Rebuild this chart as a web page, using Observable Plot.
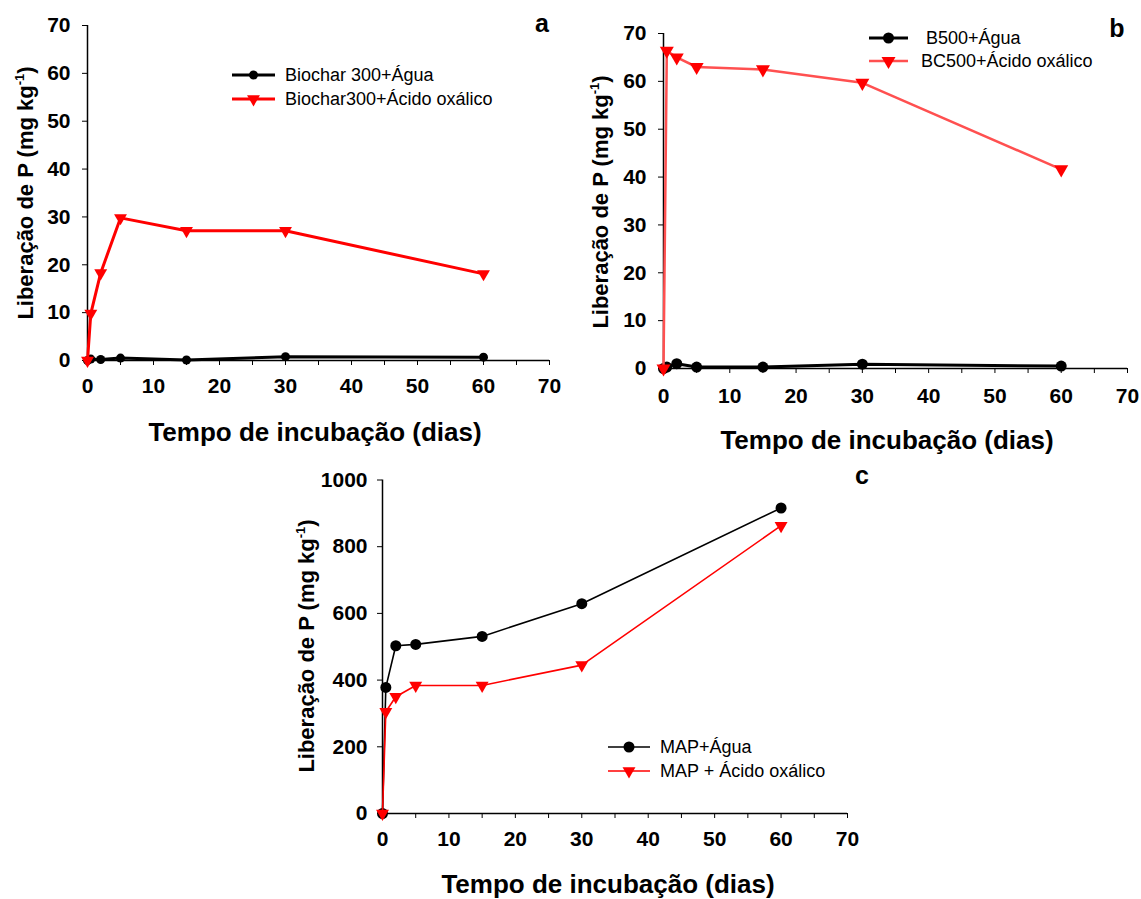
<!DOCTYPE html>
<html><head><meta charset="utf-8">
<script src="https://cdn.jsdelivr.net/npm/d3@7"></script>
<script src="https://cdn.jsdelivr.net/npm/@observablehq/plot@0.6"></script>
<style>
body{margin:0;background:#fff;}
#wrap{position:relative;width:1141px;height:899px;overflow:hidden;font-family:"Liberation Sans",Arial,sans-serif;color:#000;}
.ytitle{position:absolute;white-space:nowrap;font-weight:bold;font-size:22px;transform:translate(-50%,-50%) rotate(-90deg);}
.ytitle sup{font-size:13px;vertical-align:9px;line-height:0;}
.xtitle{position:absolute;white-space:nowrap;font-weight:bold;font-size:26px;transform:translate(-50%,-50%);}
.letter{position:absolute;font-weight:bold;font-size:25px;transform:translate(-50%,-50%);}
.leg{position:absolute;display:flex;align-items:center;height:24px;font-size:18px;white-space:pre;}
.leg svg{display:block;}
</style></head>
<body><div id="wrap"></div>
<script>
// ---- data ----
const dias = [0, 0.5, 2, 5, 15, 30, 60];
const aAgua = [0, 0.3, 0.2, 0.5, 0.1, 0.8, 0.7];
const aOxalico = [0, 9.8, 18.3, 29.8, 27.1, 27.1, 18.1];
const bAgua = [0, 0.3, 1.0, 0.3, 0.3, 0.9, 0.5];
const bOxalico = [0, 66.4, 65.0, 63.0, 62.5, 59.7, 41.6];
const cAgua = [0, 378, 503, 507, 531, 629, 916];
const cOxalico = [0, 305, 350, 384, 384, 445, 863];
const xTicks = [0, 5, 10, 15, 20, 25, 30, 35, 40, 45, 50, 55, 60, 65, 70];
const xLabels = [0, 10, 20, 30, 40, 50, 60, 70];
const abYTicks = [0, 10, 20, 30, 40, 50, 60, 70];
const cYTicks = [0, 200, 400, 600, 800, 1000];
const legA = ["Biochar 300+Água", "Biochar300+Ácido oxálico"];
const legB = [" B500+Água", "BC500+Ácido oxálico"];
const legC = ["MAP+Água", "MAP + Ácido oxálico"];
const xTitle = "Tempo de incubação (dias)";

const W = 1141, H = 899;
const wrap = document.getElementById("wrap");
const FONT = '"Liberation Sans", Arial, sans-serif';

const downTriangle = {
  draw(ctx, size) {
    const y = -Math.sqrt(size / (Math.sqrt(3) * 3));
    ctx.moveTo(0, -2 * y);
    ctx.lineTo(-Math.sqrt(3) * y, y);
    ctx.lineTo(Math.sqrt(3) * y, y);
    ctx.closePath();
  }
};

function rows(vals) { return dias.map((d, i) => ({dia: d, v: vals[i]})); }

function panel(o) {
  const ag = rows(o.agua), ox = rows(o.ox);
  const svg = Plot.plot({
    width: W, height: H,
    marginLeft: o.f.left, marginRight: W - o.f.right,
    marginTop: o.f.top, marginBottom: H - o.f.bottom,
    x: {domain: [0, 70]},
    y: {domain: o.yDomain},
    style: {fontFamily: FONT, fontSize: "21px", fontWeight: "bold", background: "transparent", overflow: "visible", color: "#000"},
    marks: [
      Plot.axisY({ticks: o.yTicks, tickSize: 5, tickPadding: o.yPad, label: null, tickFormat: d => String(d)}),
      Plot.axisX({ticks: xTicks, tickSize: 5, label: null, tickFormat: () => ""}),
      Plot.text(xLabels, {x: d => d, text: d => String(d), frameAnchor: "bottom", dy: o.xLabDy, fontSize: 21, fontWeight: "bold", fill: "#000"}),
      Plot.ruleX([0], {stroke: "#000", strokeWidth: 1.5}),
      Plot.ruleY([0], {stroke: "#000", strokeWidth: 1.5}),
      Plot.line(ag, {x: "dia", y: "v", stroke: "#000", strokeWidth: o.blackW}),
      Plot.dot(ag, {x: "dia", y: "v", r: o.dotR, fill: "#000", stroke: "none"}),
      Plot.line(ox, {x: "dia", y: "v", stroke: o.redLine, strokeWidth: o.redW}),
      Plot.dot(ox, {x: "dia", y: "v", r: o.triR, symbol: downTriangle, fill: "#ff0000", stroke: "none"})
    ]
  });
  svg.style.position = "absolute";
  svg.style.left = "0px";
  svg.style.top = "0px";
  svg.style.maxWidth = "none";
  wrap.appendChild(svg);
}

panel({agua: aAgua, ox: aOxalico, yDomain: [0, 70], yTicks: abYTicks, yPad: 12, xLabDy: 32,
  f: {left: 87, right: 549, top: 25, bottom: 360}, blackW: 3, redW: 3, redLine: "#ff0000", dotR: 4.5, triR: 4.8});
panel({agua: bAgua, ox: bOxalico, yDomain: [0, 70], yTicks: abYTicks, yPad: 12, xLabDy: 34,
  f: {left: 663, right: 1127, top: 33, bottom: 368}, blackW: 3, redW: 2.5, redLine: "#ff5050", dotR: 5.5, triR: 5.2});
panel({agua: cAgua, ox: cOxalico, yDomain: [0, 1000], yTicks: cYTicks, yPad: 10, xLabDy: 32,
  f: {left: 382, right: 847, top: 479.5, bottom: 813}, blackW: 1.6, redW: 1.6, redLine: "#ff0000", dotR: 5.5, triR: 4.8});

function addDiv(cls, html, x, y) {
  const d = document.createElement("div");
  d.className = cls; d.innerHTML = html;
  d.style.left = x + "px"; d.style.top = y + "px";
  wrap.appendChild(d);
}
const yT = 'Liberação de P (mg kg<sup>-1</sup>)';
addDiv("ytitle", yT, 26, 193);
addDiv("ytitle", yT, 601, 202);
addDiv("ytitle", yT, 307, 646);
addDiv("xtitle", xTitle, 315, 432);
addDiv("xtitle", xTitle, 887, 440);
addDiv("xtitle", xTitle, 608, 884);
addDiv("letter", "a", 542, 23);
addDiv("letter", "b", 1117, 28);
addDiv("letter", "c", 862, 475);

function legendRow(x0, x1, textLeft, yc, label, kind, lineColor, lw, r) {
  const d = document.createElement("div");
  d.className = "leg";
  d.style.left = x0 + "px"; d.style.top = (yc - 12) + "px";
  const w = textLeft - x0;
  const len = x1 - x0, mid = len / 2;
  let marker;
  if (kind === "dot") marker = `<circle cx="${mid}" cy="12" r="${r}" fill="#000"/>`;
  else marker = `<path transform="translate(${mid},12)" d="${d3.symbol(downTriangle, Math.PI * r * r)()}" fill="#ff0000"/>`;
  d.innerHTML = `<svg width="${w}" height="24"><line x1="0" x2="${len}" y1="12" y2="12" stroke="${lineColor}" stroke-width="${lw}"/>${marker}</svg><span>${label}</span>`;
  wrap.appendChild(d);
}
legendRow(232, 275, 285, 75, legA[0], "dot", "#000", 3, 4.5);
legendRow(232, 275, 285, 99, legA[1], "tri", "#ff0000", 3, 4.8);
legendRow(869, 908, 921, 38, legB[0], "dot", "#000", 3, 5.5);
legendRow(869, 908, 921, 61, legB[1], "tri", "#ff5050", 2.5, 5.2);
legendRow(608, 650, 660, 747, legC[0], "dot", "#000", 1.6, 5.5);
legendRow(608, 650, 660, 771, legC[1], "tri", "#ff0000", 1.6, 4.8);
</script>
</body></html>
